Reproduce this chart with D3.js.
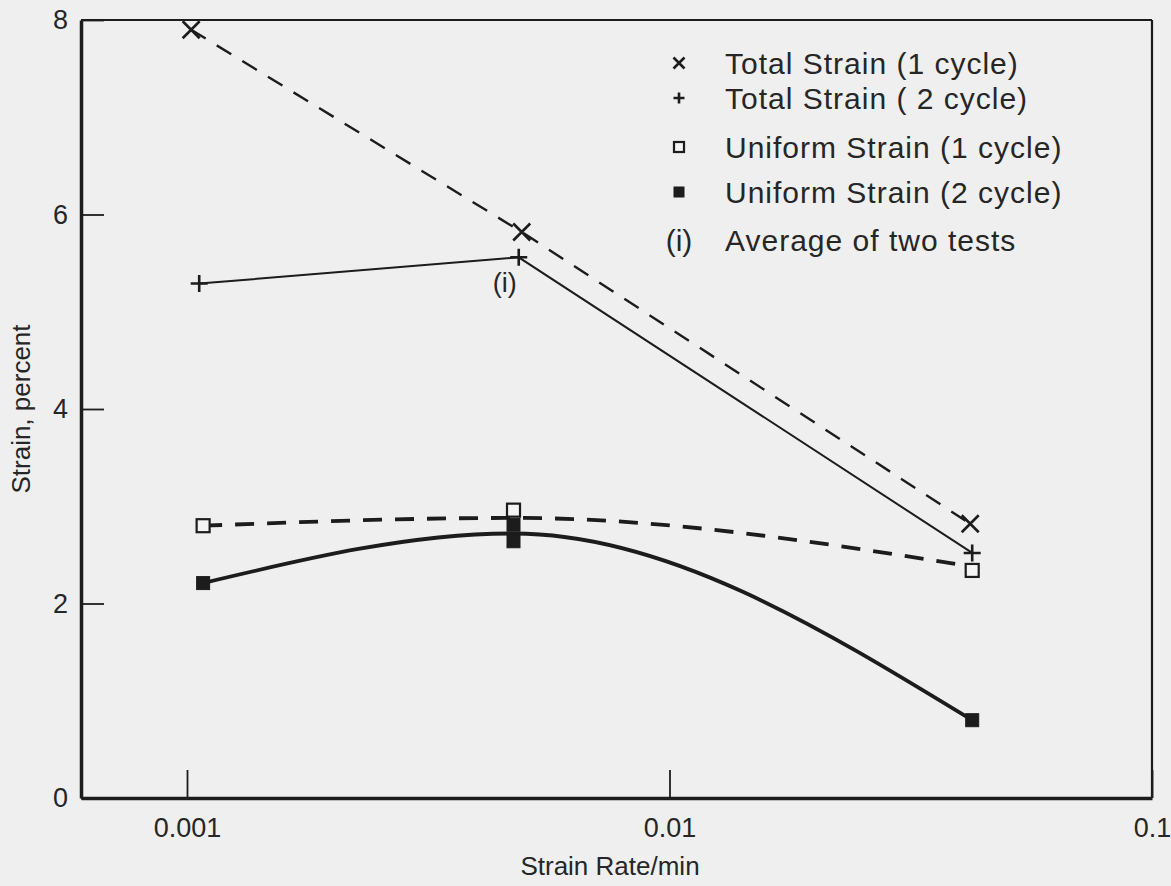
<!DOCTYPE html>
<html>
<head>
<meta charset="utf-8">
<script src="https://cdn.jsdelivr.net/npm/d3@7"></script>
<style>
body { margin: 0; background: #efefef; }
svg { display: block; font-family: "Liberation Sans", Arial, sans-serif; }
</style>
</head>
<body>
<svg id="chart" width="1171" height="886"></svg>
<script>
// values
var rateTicks = [0.001, 0.01, 0.1];
var strainTicks = [0, 2, 4, 6, 8];

// total strain, 1 cycle (x markers, dashed)
var rateTotal1 = [0.00102, 0.00494, 0.0420];
var strainTotal1 = [7.90, 5.82, 2.82];
// total strain, 2 cycle (+ markers, thin solid)
var rateTotal2 = [0.00106, 0.00487, 0.0424];
var strainTotal2 = [5.29, 5.56, 2.52];
// uniform strain, 1 cycle (open squares, heavy dashed)
var rateUniform1 = [0.00108, 0.00475, 0.0424];
var strainUniform1 = [2.80, 2.96, 2.34];
var curveUniform1 = [2.80, 2.88, 2.38];
// uniform strain, 2 cycle (filled squares, heavy solid) - two tests at middle rate
var rateUniform2 = [0.00108, 0.00475, 0.00475, 0.0424];
var strainUniform2 = [2.21, 2.81, 2.64, 0.80];
var rateUniform2Curve = [0.00108, 0.00475, 0.0424];
var curveUniform2 = [2.21, 2.72, 0.80];

var legendLabels = ["Total Strain (1 cycle)", "Total Strain ( 2 cycle)", "Uniform Strain (1 cycle)",
  "Uniform Strain (2 cycle)", "Average of two tests"];
var legendKeys = ["x", "plus", "open", "filled", "(i)"];

var ink = "#1c1c1c";
var margin = {top: 20, right: 19, bottom: 88, left: 81},
    W = 1171, H = 886;

var svg = d3.select("#chart");

var x = d3.scaleLog().domain([0.000603, 0.1]).range([margin.left, W - margin.right]);
var y = d3.scaleLinear().domain([0, 8]).range([H - margin.bottom, margin.top]);

// frame: thin top/right
svg.append("line").attr("x1", x.range()[0]).attr("x2", x.range()[1])
  .attr("y1", y(8)).attr("y2", y(8)).attr("stroke", ink).attr("stroke-width", 2.2);
svg.append("line").attr("x1", x.range()[1]).attr("x2", x.range()[1])
  .attr("y1", y(8)).attr("y2", y(0)).attr("stroke", ink).attr("stroke-width", 2.2);

var yAxis = svg.append("g")
  .attr("transform", "translate(" + margin.left + ",0)")
  .call(d3.axisLeft(y).tickValues(strainTicks).tickSize(-23).tickSizeOuter(0).tickPadding(13).tickFormat(d3.format("d")));

var xAxis = svg.append("g")
  .attr("transform", "translate(0," + y(0) + ")")
  .call(d3.axisBottom(x).tickValues(rateTicks).tickSize(-28).tickSizeOuter(0).tickPadding(20).tickFormat(function(d){ return String(d); }));

[yAxis, xAxis].forEach(function(g){
  g.select(".domain").attr("stroke", ink).attr("stroke-width", 3.5);
  g.selectAll(".tick line").attr("stroke", ink).attr("stroke-width", 1.8);
  g.selectAll(".tick text").attr("fill", "#262626").style("font-size", "27px");
});

svg.append("text")
  .attr("transform", "translate(30," + ((y(0) + y(8)) / 2) + ") rotate(-90)")
  .attr("text-anchor", "middle")
  .attr("fill", "#262626")
  .style("font-size", "26px")
  .text("Strain,  percent");

svg.append("text")
  .attr("x", 610).attr("y", 875)
  .attr("text-anchor", "middle")
  .attr("fill", "#262626")
  .style("font-size", "26px")
  .text("Strain Rate/min");

function pts(xs, ys){ return xs.map(function(v, i){ return [x(v), y(ys[i])]; }); }

var straight = d3.line();
var smooth = d3.line().curve(d3.curveMonotoneX);

svg.append("path").attr("d", straight(pts(rateTotal1, strainTotal1)))
  .attr("fill", "none").attr("stroke", ink).attr("stroke-width", 2.4).attr("stroke-dasharray", "17,13");
svg.append("path").attr("d", straight(pts(rateTotal2, strainTotal2)))
  .attr("fill", "none").attr("stroke", ink).attr("stroke-width", 2);
svg.append("path").attr("d", smooth(pts(rateUniform1, curveUniform1)))
  .attr("fill", "none").attr("stroke", ink).attr("stroke-width", 3.8).attr("stroke-dasharray", "19,13");
svg.append("path").attr("d", smooth(pts(rateUniform2Curve, curveUniform2)))
  .attr("fill", "none").attr("stroke", ink).attr("stroke-width", 3.8);

function marker(g, kind, cx, cy, s){
  var h = s / 2;
  if (kind === "x") {
    g.append("path").attr("d", "M" + (cx-h) + "," + (cy-h) + "L" + (cx+h) + "," + (cy+h) + "M" + (cx-h) + "," + (cy+h) + "L" + (cx+h) + "," + (cy-h))
      .attr("stroke", ink).attr("stroke-width", 2.6);
  } else if (kind === "plus") {
    g.append("path").attr("d", "M" + (cx-h) + "," + cy + "L" + (cx+h) + "," + cy + "M" + cx + "," + (cy-h) + "L" + cx + "," + (cy+h))
      .attr("stroke", ink).attr("stroke-width", 2.6);
  } else if (kind === "open") {
    g.append("rect").attr("x", cx-h).attr("y", cy-h).attr("width", s).attr("height", s)
      .attr("fill", "#f4f4f4").attr("stroke", ink).attr("stroke-width", 2.2);
  } else if (kind === "filled") {
    g.append("rect").attr("x", cx-h).attr("y", cy-h).attr("width", s).attr("height", s)
      .attr("fill", ink).attr("stroke", ink).attr("stroke-width", 1);
  }
}

var marks = svg.append("g");
pts(rateUniform1, strainUniform1).forEach(function(p){ marker(marks, "open", p[0], p[1], 13); });
pts(rateUniform2, strainUniform2).forEach(function(p){ marker(marks, "filled", p[0], p[1], 13); });
pts(rateTotal1, strainTotal1).forEach(function(p){ marker(marks, "x", p[0], p[1], 17); });
pts(rateTotal2, strainTotal2).forEach(function(p){ marker(marks, "plus", p[0], p[1], 17); });

// note under the averaged point
svg.append("text")
  .attr("x", x(rateTotal2[1]) - 14).attr("y", y(strainTotal2[1]) + 35)
  .attr("text-anchor", "middle").attr("fill", "#262626")
  .style("font-size", "27px").text("(i)");

// legend
var legendY = [63, 98, 147, 192, 240];
var legend = svg.append("g");
legendLabels.forEach(function(label, i){
  var ly = legendY[i];
  if (legendKeys[i] === "(i)") {
    legend.append("text").attr("x", 679).attr("y", ly + 11).attr("text-anchor", "middle")
      .attr("fill", "#262626").style("font-size", "30px").text("(i)");
  } else {
    marker(legend, legendKeys[i], 679, ly, legendKeys[i] === "open" || legendKeys[i] === "filled" ? 10 : 11);
  }
  legend.append("text").attr("x", 725).attr("y", ly + 11)
    .attr("fill", "#262626").style("font-size", "30px").style("letter-spacing", "1px").text(label);
});
</script>
</body>
</html>
